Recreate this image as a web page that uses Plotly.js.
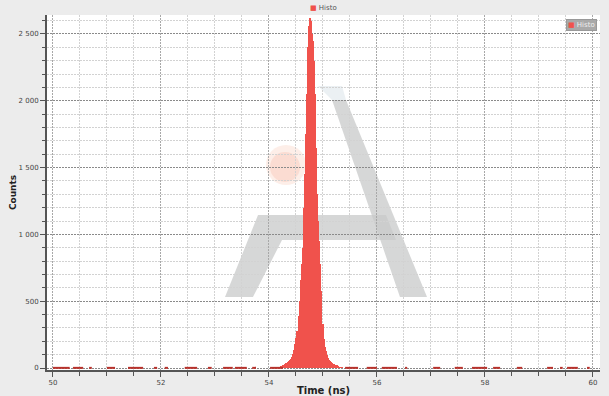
<!DOCTYPE html>
<html><head><meta charset="utf-8">
<script src="https://cdn.plot.ly/plotly-3.0.1.min.js"></script>
<style>html,body{margin:0;padding:0;background:#ececec;}#c{width:609px;height:396px;}</style>
</head><body><div id="c"></div>
<script>
// Histogram bin centers (ns) and counts around the peak
const binX = [54.10,54.12,54.14,54.16,54.18,54.20,54.22,54.24,54.26,54.28,54.30,54.32,54.34,54.36,54.38,54.40,54.42,54.44,54.46,54.48,54.50,54.52,54.54,54.56,54.58,54.60,54.62,54.64,54.66,54.68,54.70,54.72,54.74,54.76,54.78,54.80,54.82,54.84,54.86,54.88,54.90,54.92,54.94,54.96,54.98,55.00,55.02,55.04,55.06,55.08,55.10,55.12,55.14,55.16,55.18,55.20,55.22,55.24,55.26,55.28,55.30,55.32,55.34,55.36,55.38,55.40];
const counts = [2,3,4,5,7,9,12,16,22,28,34,40,46,52,58,70,85,105,132,180,225,280,390,505,655,780,900,1200,1450,1750,2050,2400,2560,2620,2600,2500,2450,2300,2050,1650,1300,1100,950,780,580,330,220,160,130,100,75,62,55,45,38,32,27,23,20,15,11,8,6,4,3,2];
// Sparse background counts (runs of single counts at the baseline)
const noiseX = [50.00,50.31,null,50.37,50.56,null,50.67,50.72,null,51.00,51.15,null,51.39,51.67,null,51.87,51.93,null,52.07,52.13,null,52.44,52.67,null,52.87,52.94,null,53.15,53.33,null,53.37,53.59,null,53.69,53.76,null,54.02,54.26,null,55.41,55.65,null,55.81,56.00,null,56.09,56.37,null,56.52,56.56,null,57.04,57.17,null,57.44,57.59,null,57.76,58.04,null,58.15,58.28,null,58.59,58.69,null,59.15,59.26,null,59.39,59.44,null,59.52,59.72,null,59.89,59.94];
const noiseY = noiseX.map(v => v === null ? null : 1);
const seriesName = 'Histo';
const xTitle = 'Time (ns)';
const yTitle = 'Counts';

const W = 609, H = 396, L = 47, R = 9, T = 15, B = 26;
const px = x => (x - L) / (W - L - R);
const py = y => (H - B - y) / (H - T - B);
const poly = pts => 'M ' + pts.map(p => px(p[0]).toFixed(4) + ',' + py(p[1]).toFixed(4)).join(' L ') + ' Z';

const red = '#f0524c';
const traces = [
  {type: 'bar', x: binX, y: counts, name: seriesName, width: 0.021,
   marker: {color: red, line: {width: 0}}, showlegend: false},
  {type: 'scatter', mode: 'lines', x: noiseX, y: noiseY, connectgaps: false,
   line: {color: '#b8322c', width: 2}, showlegend: false, hoverinfo: 'skip'}
];

const layout = {
  width: W, height: H,
  margin: {l: L, r: R, t: T, b: B, pad: 0},
  paper_bgcolor: '#ececec', plot_bgcolor: '#ffffff',
  font: {family: 'DejaVu Sans, sans-serif', size: 7, color: '#444'},
  separators: '. ',
  bargap: 0,
  showlegend: false,
  xaxis: {range: [49.89, 60.13], dtick: 2, tick0: 50, ticks: 'outside', ticklen: 5,
          tickcolor: '#555', tickwidth: 1, showline: true, linecolor: '#555', linewidth: 2,
          showgrid: true, gridcolor: '#a8a8a8', griddash: '2px,1px', gridwidth: 1,
          zeroline: false, tickfont: {size: 7, color: '#444'},
          minor: {dtick: 0.5, ticks: 'outside', ticklen: 4, tickcolor: '#555',
                  showgrid: true, gridcolor: '#d2d2d2', griddash: '2px,1px', gridwidth: 1},
          title: {text: '<b>' + xTitle + '</b>', font: {size: 10, color: '#222'}, standoff: 6},
          fixedrange: true},
  yaxis: {range: [-15, 2642], dtick: 500, tick0: 0, tickformat: ',d', ticks: 'outside',
          ticklen: 5, tickcolor: '#555', showline: true, linecolor: '#555', linewidth: 2,
          showgrid: true, gridcolor: '#8a8a8a', griddash: '2px,1px', gridwidth: 1,
          zeroline: false, tickfont: {size: 7, color: '#444'},
          minor: {dtick: 100, ticks: 'outside', ticklen: 3, tickcolor: '#555',
                  showgrid: true, gridcolor: '#d2d2d2', griddash: '2px,1px', gridwidth: 1},
          title: {text: '<b>' + yTitle + '</b>', font: {size: 9, color: '#222'}, standoff: 0},
          fixedrange: true},
  shapes: [
    {type: 'path', xref: 'paper', yref: 'paper', layer: 'below', line: {width: 0},
     fillcolor: 'rgba(200,202,202,0.75)',
     path: poly([[332,100],[346,100],[427,297],[400,297]])},
    {type: 'path', xref: 'paper', yref: 'paper', layer: 'below', line: {width: 0},
     fillcolor: 'rgba(230,236,240,0.8)',
     path: poly([[318,86],[342,86],[346,100],[332,100]])},
    {type: 'path', xref: 'paper', yref: 'paper', layer: 'below', line: {width: 0},
     fillcolor: 'rgba(200,202,202,0.75)',
     path: poly([[258,215],[386,215],[396,240],[282,240],[253,297],[225,297]])},
    {type: 'circle', xref: 'paper', yref: 'paper', layer: 'below', line: {width: 0},
     fillcolor: 'rgba(245,170,140,0.2)',
     x0: px(266), x1: px(306), y0: py(185), y1: py(145)},
    {type: 'circle', xref: 'paper', yref: 'paper', layer: 'below', line: {width: 0},
     fillcolor: 'rgba(240,120,90,0.15)',
     x0: px(270), x1: px(300), y0: py(182), y1: py(152)}
  ],
  annotations: [
    {xref: 'paper', yref: 'paper', x: 0.5, y: py(8), xanchor: 'center', yanchor: 'middle',
     showarrow: false,
     text: '<span style="color:' + red + '">■</span> ' + seriesName,
     font: {size: 7, color: '#555'}},
    {xref: 'paper', yref: 'paper', x: 0.995, y: py(25), xanchor: 'right', yanchor: 'middle',
     showarrow: false, bgcolor: '#a9a9a9', bordercolor: '#999', borderwidth: 1, borderpad: 1,
     text: '<span style="color:' + red + '">■</span> ' + seriesName,
     font: {size: 7, color: '#eeeeee'}}
  ]
};

Plotly.newPlot('c', traces, layout, {displayModeBar: false, staticPlot: true});
</script></body></html>
